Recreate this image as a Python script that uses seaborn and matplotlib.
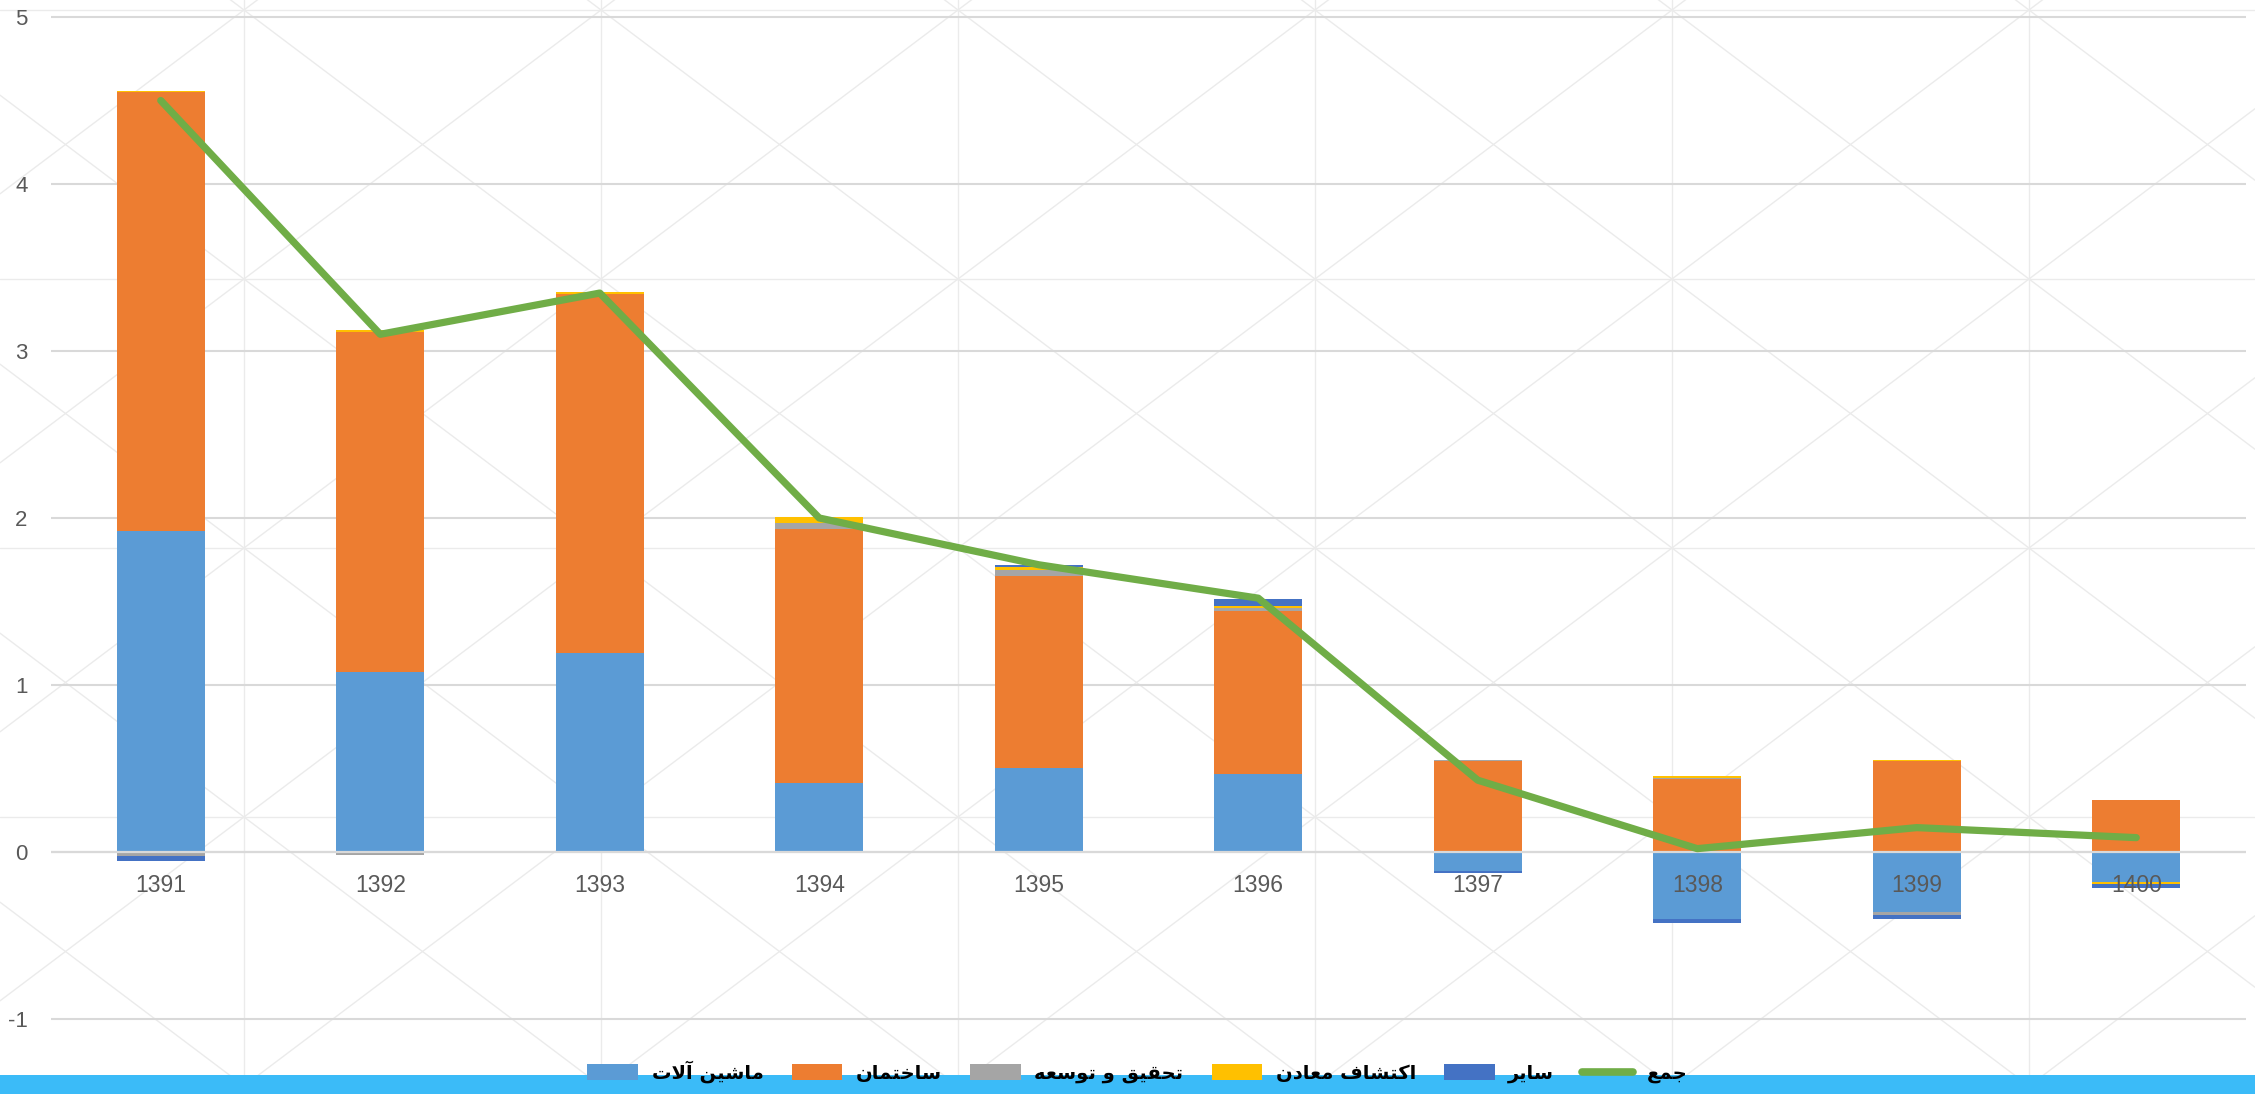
import numpy as np
import matplotlib
matplotlib.use("Agg")
import matplotlib.pyplot as plt
from matplotlib.patches import Patch, Rectangle
from matplotlib.lines import Line2D
from matplotlib.font_manager import FontProperties
import seaborn as sns

# ---------------- data ----------------
years = ["1391", "1392", "1393", "1394", "1395", "1396", "1397", "1398", "1399", "1400"]
series_names = ["ماشین آلات", "ساختمان", "تحقیق و توسعه", "اکتشاف معادن", "سایر"]
total_name = "جمع"
machinery = [1.92, 1.08, 1.19, 0.416, 0.504, 0.47, -0.115, -0.40, -0.362, -0.18]
construction = [2.63, 2.034, 2.149, 1.52, 1.15, 0.976, 0.546, 0.44, 0.544, 0.31]
rnd = [-0.024, -0.018, -0.004, 0.036, 0.036, 0.016, 0.003, 0.004, -0.016, 0.0]
mining = [0.008, 0.012, 0.014, 0.036, 0.016, 0.012, 0.0, 0.01, 0.006, -0.012]
other = [-0.03, 0.0, 0.0, 0.0, 0.012, 0.042, -0.008, -0.026, -0.026, -0.026]
total = [4.50, 3.10, 3.347, 2.00, 1.72, 1.52, 0.43, 0.02, 0.146, 0.086]
y_ticks = [-1, 0, 1, 2, 3, 4, 5]

colors = ["#5B9BD5", "#ED7D31", "#A5A5A5", "#FFC000", "#4472C4"]
line_color = "#70AD47"

# ---------------- Persian shaping (matplotlib has no complex text layout) ----------------
FORMS = {
    'ا': ('\uFE8D', '\uFE8E', None, None),
    'آ': ('\uFE81', '\uFE82', None, None),
    'ت': ('\uFE95', '\uFE96', '\uFE97', '\uFE98'),
    'ج': ('\uFE9D', '\uFE9E', '\uFE9F', '\uFEA0'),
    'ح': ('\uFEA1', '\uFEA2', '\uFEA3', '\uFEA4'),
    'خ': ('\uFEA5', '\uFEA6', '\uFEA7', '\uFEA8'),
    'د': ('\uFEA9', '\uFEAA', None, None),
    'ر': ('\uFEAD', '\uFEAE', None, None),
    'س': ('\uFEB1', '\uFEB2', '\uFEB3', '\uFEB4'),
    'ش': ('\uFEB5', '\uFEB6', '\uFEB7', '\uFEB8'),
    'ع': ('\uFEC9', '\uFECA', '\uFECB', '\uFECC'),
    'ف': ('\uFED1', '\uFED2', '\uFED3', '\uFED4'),
    'ق': ('\uFED5', '\uFED6', '\uFED7', '\uFED8'),
    'ل': ('\uFEDD', '\uFEDE', '\uFEDF', '\uFEE0'),
    'م': ('\uFEE1', '\uFEE2', '\uFEE3', '\uFEE4'),
    'ن': ('\uFEE5', '\uFEE6', '\uFEE7', '\uFEE8'),
    'ه': ('\uFEE9', '\uFEEA', '\uFEEB', '\uFEEC'),
    'و': ('\uFEED', '\uFEEE', None, None),
    'ی': ('\uFBFC', '\uFBFD', '\uFBFE', '\uFBFF'),
    'ک': ('\uFB8E', '\uFB8F', '\uFB90', '\uFB91'),
}
LAM_ALEF = {'ا': ('\uFEFB', '\uFEFC'), 'آ': ('\uFEF5', '\uFEF6')}


def shape(text):
    out = []
    chars = list(text)
    i = 0
    prev_joins = False
    while i < len(chars):
        c = chars[i]
        if c not in FORMS:
            out.append(c)
            prev_joins = False
            i += 1
            continue
        nxt = chars[i + 1] if i + 1 < len(chars) else None
        if c == 'ل' and nxt in LAM_ALEF:
            out.append(LAM_ALEF[nxt][1 if prev_joins else 0])
            prev_joins = False
            i += 2
            continue
        f = FORMS[c]
        can_next = f[2] is not None and nxt in FORMS
        if prev_joins and can_next:
            g = f[3]
        elif prev_joins:
            g = f[1]
        elif can_next:
            g = f[2]
        else:
            g = f[0]
        out.append(g)
        prev_joins = f[2] is not None
        i += 1
    return ''.join(reversed(out))


# ---------------- style ----------------
sns.set_theme(style="whitegrid")
plt.rcParams['font.family'] = ['Liberation Sans', 'DejaVu Sans']

W, H = 2255, 1094
fig = plt.figure(figsize=(W / 100, H / 100), dpi=100)
fig.patch.set_facecolor("white")

# background pattern (chart area texture)
bg = fig.add_axes([0, 0, 1, 1], zorder=-10)
bg.set_xlim(0, W)
bg.set_ylim(H, 0)
bg.axis("off")
px, py = 357, 269
x0, y0 = 244, 10
pat_kw = dict(color="#EBEBEB", lw=1.0, zorder=0)
for k in range(-1, 8):
    bg.plot([x0 + k * px] * 2, [0, H], **pat_kw)
for m in range(-1, 6):
    bg.plot([0, W], [y0 + m * py] * 2, **pat_kw)
s = py / px
for n in range(-20, 20):
    c0 = y0 + n * py
    bg.plot([0, W], [c0 + s * (0 - x0), c0 + s * (W - x0)], **pat_kw)
    bg.plot([0, W], [c0 - s * (0 - x0), c0 - s * (W - x0)], **pat_kw)

# bottom blue strip
fig.patches.append(Rectangle((0, 0), 1, 19 / H, transform=fig.transFigure,
                             facecolor="#3BBBF8", edgecolor="none", zorder=1))

# main axes
ylo, yhi = -1.05, 5.05
unit = 166.8
bottom_px = 1019 + 0.05 * unit
top_px = 17 - 0.05 * unit
ax = fig.add_axes([51 / W, (H - bottom_px) / H, 2195 / W, (bottom_px - top_px) / H])
ax.set_facecolor("none")
ax.set_xlim(-0.5, len(years) - 0.5)
ax.set_ylim(ylo, yhi)

x = np.arange(len(years))
pos_b = np.zeros(len(years))
neg_b = np.zeros(len(years))
all_series = [machinery, construction, rnd, mining, other]
for vals, col in zip(all_series, colors):
    v = np.array(vals, dtype=float)
    b = np.where(v >= 0, pos_b, neg_b)
    ax.bar(x, v, bottom=b, width=0.4, color=col, linewidth=0, zorder=2)
    pos_b = pos_b + np.where(v >= 0, v, 0)
    neg_b = neg_b + np.where(v < 0, v, 0)

ax.axhline(0, color="#D9D9D9", lw=1.6, zorder=3)

sns.lineplot(x=x, y=total, ax=ax, color=line_color, lw=5.2, zorder=4, legend=False)

ax.grid(False)
ax.set_yticks(y_ticks)
ax.set_yticklabels([str(t) for t in y_ticks])
for t in y_ticks:
    ax.axhline(t, color="#D9D9D9", lw=1.5, zorder=1)
ax.set_xticks([])
ax.tick_params(axis="y", length=0, pad=17, labelsize=16, labelcolor="#595959")
for sp in ax.spines.values():
    sp.set_visible(False)
ax.set_xlabel("")
ax.set_ylabel("")

for i, yr in enumerate(years):
    ax.annotate(yr, (i, 0), xytext=(0, -15.5), textcoords="offset points",
                ha="center", va="top", fontsize=16.5, color="#595959", zorder=6)

# legend
handles = [Patch(facecolor=c, edgecolor="none") for c in colors]
handles.append(Line2D([0], [0], color=line_color, lw=5.5, solid_capstyle="round"))
labels = [shape(n) for n in series_names] + [shape(total_name)]
leg_font = FontProperties(family="DejaVu Sans", weight="bold", size=14)
leg = fig.legend(handles, labels, loc="center", bbox_to_anchor=(0.5044, 22 / H),
                 ncol=6, frameon=False, prop=leg_font, handlelength=2.6,
                 handleheight=0.85, handletextpad=0.7, columnspacing=1.45)
leg.set_zorder(5)
for t in leg.get_texts():
    t.set_color("black")

fig.savefig("out.png", dpi=100)
